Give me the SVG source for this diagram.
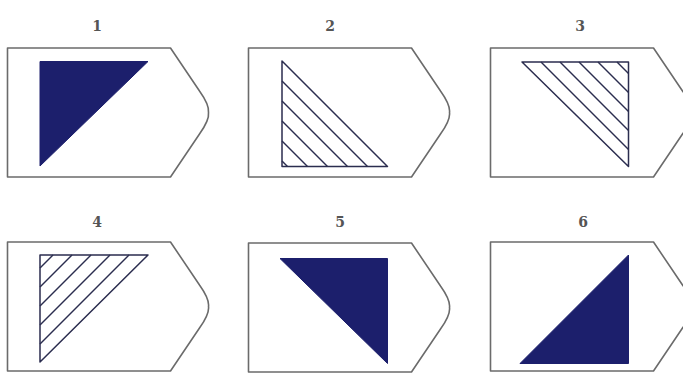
<svg xmlns="http://www.w3.org/2000/svg" width="683" height="374" viewBox="0 0 683 374">
<style>
.bg{fill:#ffffff}
.card{fill:#ffffff;stroke:#6b6b6b;stroke-width:1.6;stroke-linejoin:round}
.solid{fill:#1c1f6c;stroke:#1c1f6c;stroke-width:1}
.tri{fill:#ffffff;stroke:#2b2d4f;stroke-width:1.5;stroke-linejoin:round}
.hatch{stroke:#2b2d4f;stroke-width:1.4;fill:none}
.lbl{font-family:"DejaVu Serif","Liberation Serif",serif;font-size:14px;font-weight:bold;fill:#555;text-anchor:middle}
</style>
<defs>
<path id="cardShape" d="M0,0 H163 L192,43 Q202,57 201,64.5 Q202,72 192,86 L163,129 H0 Z"/>
</defs>
<rect class="bg" x="0" y="0" width="683" height="374"/>

<g id="node1">
<text class="lbl" x="97" y="31">1</text>
<use href="#cardShape" class="card" transform="translate(7.5,48)"/>
<polygon class="solid" points="40,61.5 148,61.5 40,166"/>
</g>

<g id="node2">
<text class="lbl" x="330" y="31">2</text>
<use href="#cardShape" class="card" transform="translate(248.5,48)"/>
<polygon class="tri" points="282,61 282,166.5 387.5,166.5"/>
<g class="hatch">
<line x1="282" y1="81" x2="367.5" y2="166.5"/>
<line x1="282" y1="101" x2="347.5" y2="166.5"/>
<line x1="282" y1="121" x2="327.5" y2="166.5"/>
<line x1="282" y1="141" x2="307.5" y2="166.5"/>
<line x1="282" y1="161" x2="287.5" y2="166.5"/>
</g>
</g>

<g id="node3">
<text class="lbl" x="580" y="31">3</text>
<use href="#cardShape" class="card" transform="translate(490.5,48)"/>
<polygon class="tri" points="522,62 628.5,62 628.5,166.5"/>
<g class="hatch">
<line x1="541" y1="62" x2="628.5" y2="149.5"/>
<line x1="560" y1="62" x2="628.5" y2="130.5"/>
<line x1="579" y1="62" x2="628.5" y2="111.5"/>
<line x1="598" y1="62" x2="628.5" y2="92.5"/>
<line x1="617" y1="62" x2="628.5" y2="73.5"/>
</g>
</g>

<g id="node4">
<text class="lbl" x="97" y="227">4</text>
<use href="#cardShape" class="card" transform="translate(7.5,242)"/>
<polygon class="tri" points="40,255 148,255 40,362"/>
<g class="hatch">
<line x1="129" y1="255" x2="40" y2="344"/>
<line x1="110" y1="255" x2="40" y2="325"/>
<line x1="91" y1="255" x2="40" y2="306"/>
<line x1="72" y1="255" x2="40" y2="287"/>
<line x1="53" y1="255" x2="40" y2="268"/>
</g>
</g>

<g id="node5">
<text class="lbl" x="340" y="227">5</text>
<use href="#cardShape" class="card" transform="translate(248.5,243)"/>
<polygon class="solid" points="280,258.5 387.5,258.5 387.5,363.5"/>
</g>

<g id="node6">
<text class="lbl" x="583" y="227">6</text>
<use href="#cardShape" class="card" transform="translate(490.5,242)"/>
<polygon class="solid" points="628.5,255 628.5,363.5 520,363.5"/>
</g>

<g id="connectors"></g>
</svg>
